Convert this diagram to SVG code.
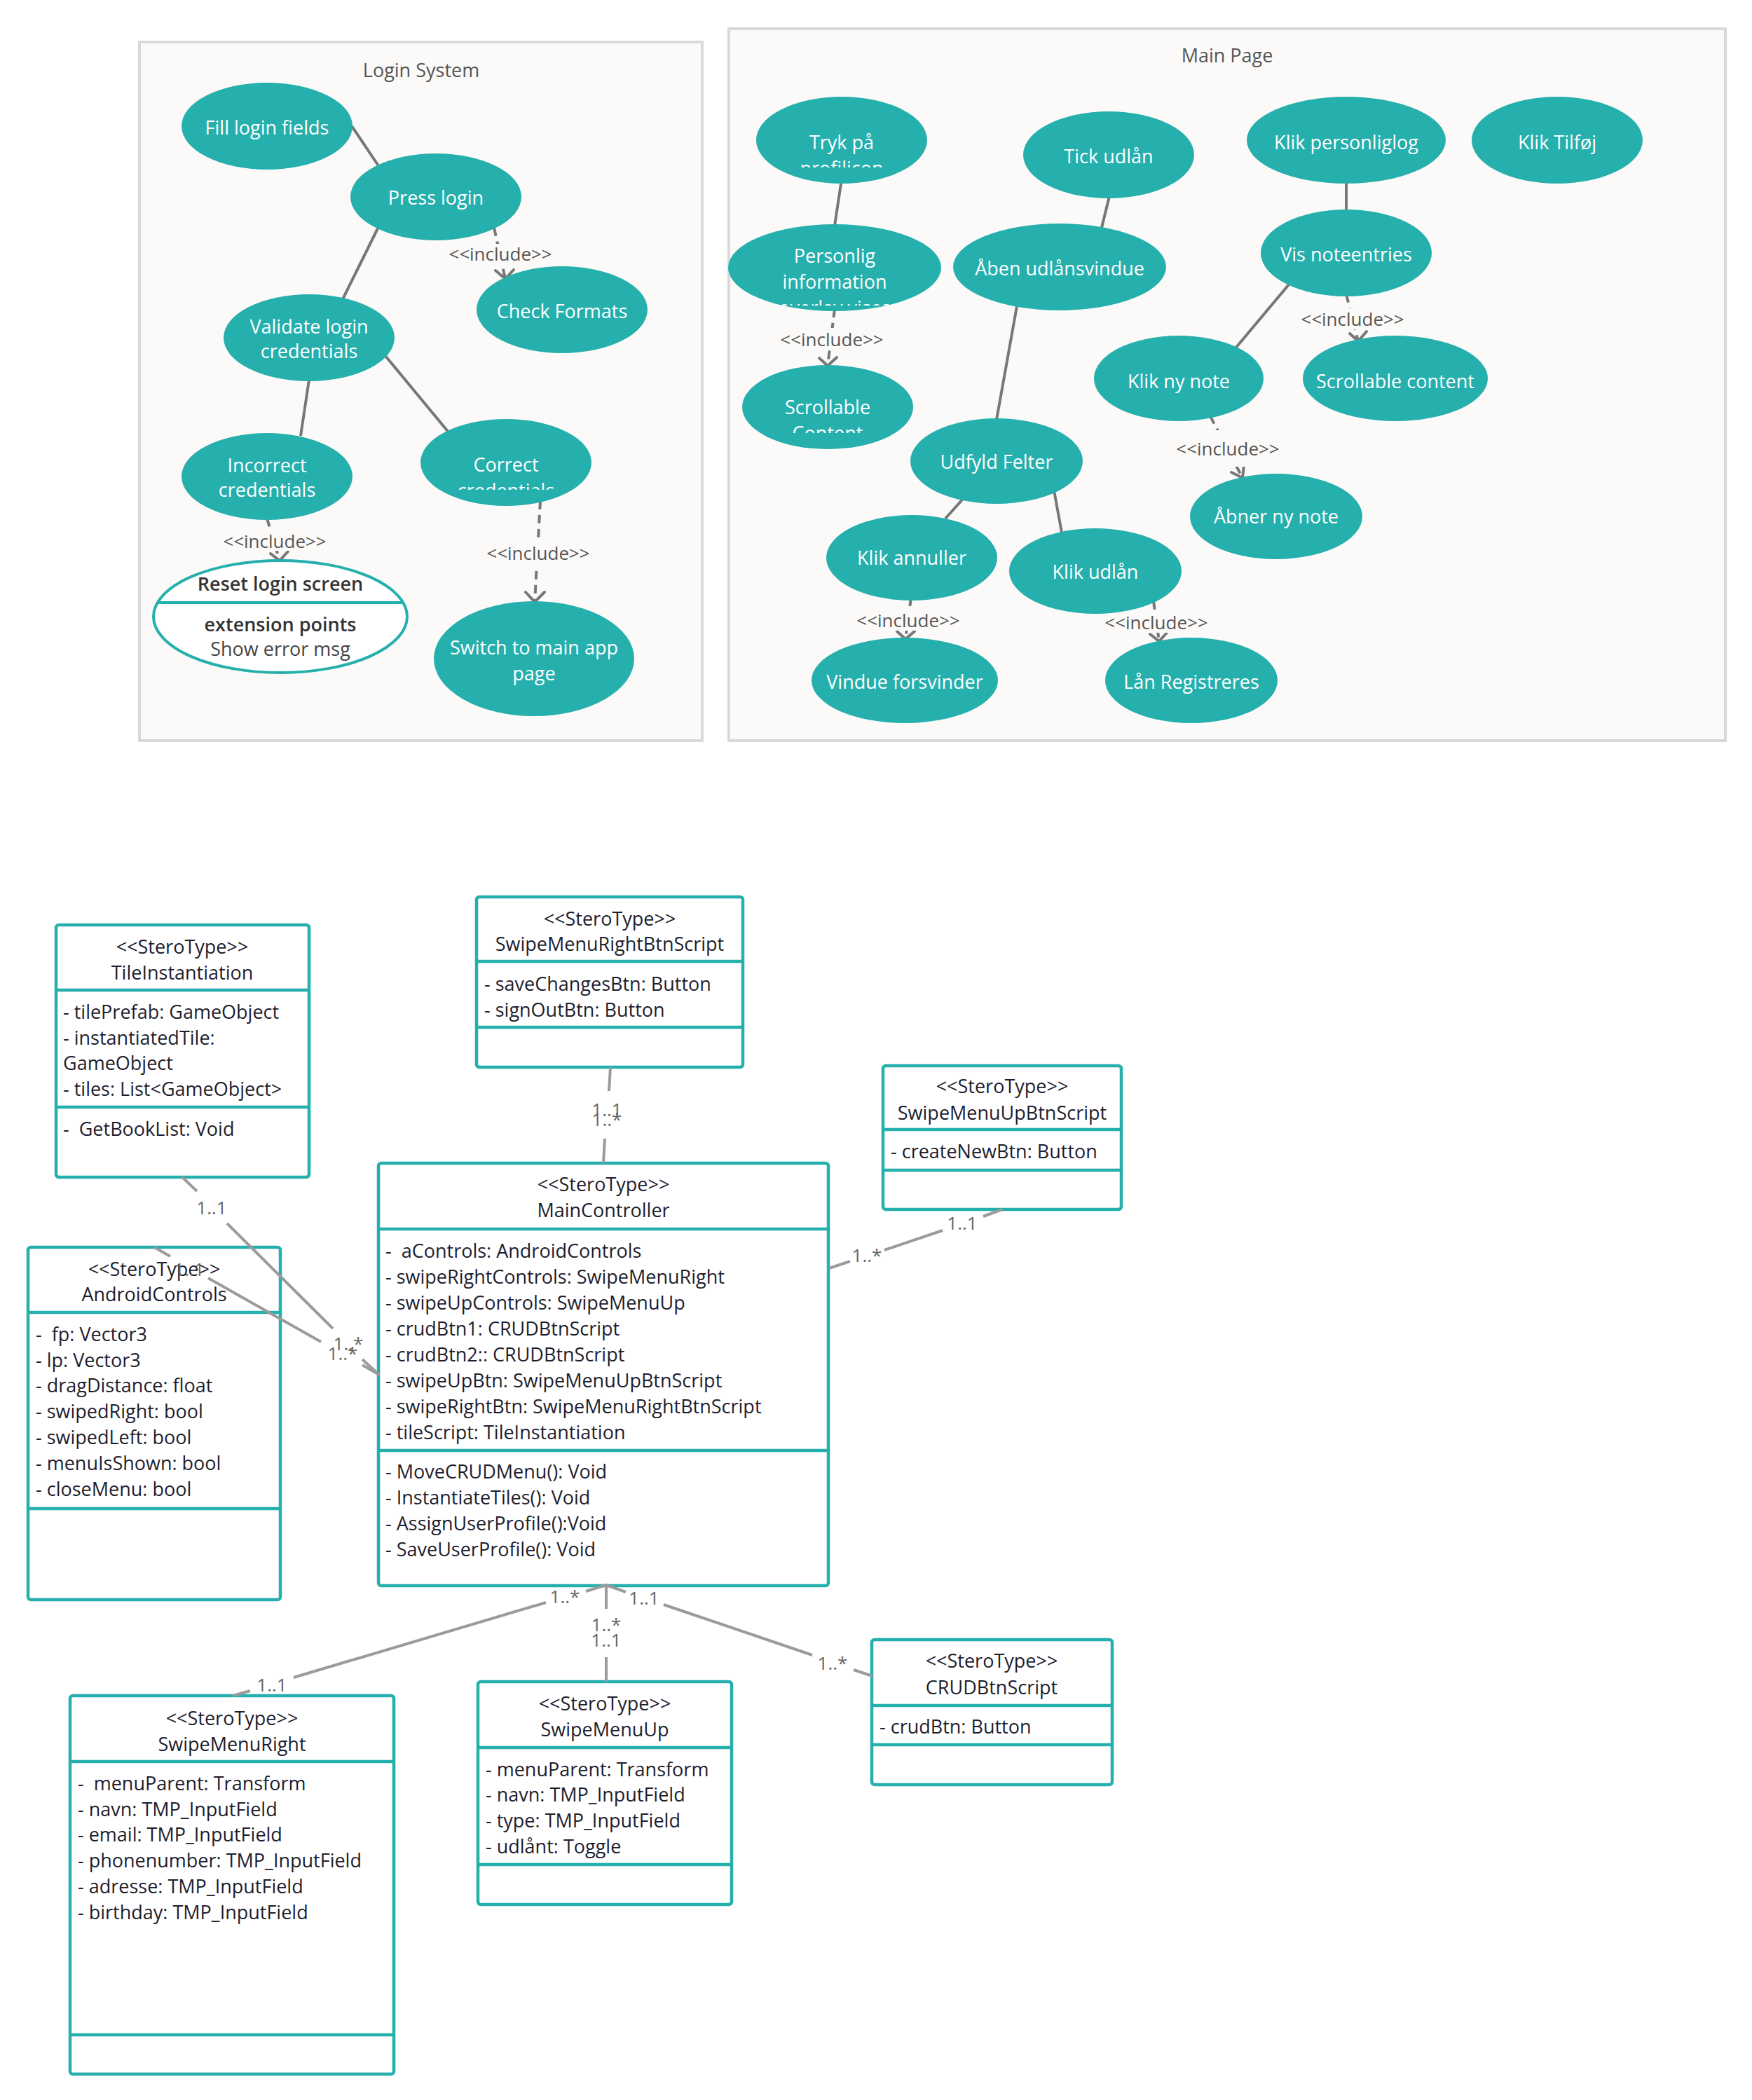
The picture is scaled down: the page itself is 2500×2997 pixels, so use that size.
<svg xmlns="http://www.w3.org/2000/svg" width="2500" height="2997" viewBox="0 0 2500 2997">
  <style>
    text { font-family: "Open Sans", "Noto Sans", "Liberation Sans", sans-serif; font-size: 27px; dominant-baseline: central; }
    .frame { fill: #fbfaf8; stroke: #d9d9d9; stroke-width: 4; }
    .title { fill: #555555; text-anchor: middle; }
    .uc { fill: #25afad; }
    .uct { fill: #ffffff; text-anchor: middle; }
    .assoc { stroke: #777777; stroke-width: 4; fill: none; }
    .incl { stroke: #777777; stroke-width: 4; fill: none; stroke-dasharray: 12 8; }
    .head { stroke: #777777; stroke-width: 4; fill: none; stroke-linecap: round; }
    .lbl { fill: #555555; text-anchor: middle; font-size: 26px; }
    .box { fill: #ffffff; stroke: #25afad; stroke-width: 4.5; }
    .div { stroke: #25afad; stroke-width: 4.5; }
    .ct { fill: #1e1e2e; white-space: pre; }
    .cc { fill: #1e1e2e; text-anchor: middle; }
    .rel { stroke: #9b9b9b; stroke-width: 4; fill: none; }
    .mult { fill: #666666; text-anchor: middle; font-size: 26px; }
  </style>
  <defs>
    <clipPath id="clip-tryk"><rect x="1070" y="130" width="260" height="109"/></clipPath>
    <clipPath id="clip-correct"><rect x="590" y="590" width="270" height="109"/></clipPath>
    <clipPath id="clip-personlig"><rect x="1030" y="310" width="320" height="126"/></clipPath>
    <clipPath id="clip-scroll1"><rect x="1050" y="515" width="270" height="103"/></clipPath>
  </defs>

  <rect width="2500" height="2997" fill="#ffffff"/>

  <!-- ===== Use case: Login System ===== -->
  <g id="login-system">
    <rect class="frame" x="199" y="60" width="803" height="997"/>
    <text class="title" x="601" y="99">Login System</text>
  </g>

  <!-- ===== Use case: Main Page ===== -->
  <g id="main-page">
    <rect class="frame" x="1040" y="41" width="1422" height="1016"/>
    <text class="title" x="1751" y="78">Main Page</text>
  </g>

  <!-- use case connectors -->
  <g id="usecase-connectors">
    <line class="assoc" x1="502" y1="180" x2="541" y2="238"/>
    <line class="assoc" x1="540" y1="324" x2="489" y2="427"/>
    <line class="assoc" x1="441" y1="542" x2="429" y2="622"/>
    <line class="assoc" x1="550" y1="508" x2="641" y2="618"/>

    <line class="incl" x1="705" y1="325" x2="721" y2="398"/>
    <line class="incl" x1="381" y1="740" x2="399" y2="800"/>
    <line class="incl" x1="771" y1="715" x2="763" y2="859"/>

    <line class="assoc" x1="1200" y1="262" x2="1191" y2="322"/>
    <line class="assoc" x1="1583" y1="280" x2="1572" y2="325"/>
    <line class="assoc" x1="1451" y1="437" x2="1422" y2="599"/>
    <line class="assoc" x1="1921" y1="261" x2="1921" y2="301"/>
    <line class="assoc" x1="1840" y1="405" x2="1762" y2="498"/>
    <line class="assoc" x1="1375" y1="711" x2="1349" y2="740"/>
    <line class="assoc" x1="1504" y1="700" x2="1515" y2="760"/>

    <line class="incl" x1="1191" y1="441" x2="1181" y2="522"/>
    <line class="incl" x1="1921" y1="420" x2="1938" y2="487"/>
    <line class="incl" x1="1727" y1="594" x2="1773" y2="682"/>
    <line class="incl" x1="1300" y1="853" x2="1292" y2="912"/>
    <line class="incl" x1="1646" y1="858" x2="1654" y2="915"/>

    <!-- include arrowheads -->
    <polyline class="head" points="707,386 721,398 733,385"/>
    <polyline class="head" points="386,790 399,800 411,787"/>
    <polyline class="head" points="750,845 763,859 777,845"/>
    <polyline class="head" points="1169,511 1181,522 1194,510"/>
    <polyline class="head" points="1926,476 1938,487 1950,473"/>
    <polyline class="head" points="1757,674 1773,682 1775,664"/>
    <polyline class="head" points="1280,901 1292,912 1305,901"/>
    <polyline class="head" points="1641,905 1654,915 1665,903"/>

    <!-- include labels -->
    <rect x="650" y="348" width="128" height="28" fill="#fbfaf8"/>
    <text class="lbl" x="714" y="362">&lt;&lt;include&gt;&gt;</text>
    <rect x="328" y="758" width="128" height="28" fill="#fbfaf8"/>
    <text class="lbl" x="392" y="772">&lt;&lt;include&gt;&gt;</text>
    <rect x="704" y="770" width="128" height="38" fill="#fbfaf8"/>
    <text class="lbl" x="768" y="789">&lt;&lt;include&gt;&gt;</text>
    <rect x="1123" y="468" width="128" height="32" fill="#fbfaf8"/>
    <text class="lbl" x="1187" y="484">&lt;&lt;include&gt;&gt;</text>
    <rect x="1866" y="440" width="128" height="30" fill="#fbfaf8"/>
    <text class="lbl" x="1930" y="455">&lt;&lt;include&gt;&gt;</text>
    <rect x="1688" y="614" width="128" height="52" fill="#fbfaf8"/>
    <text class="lbl" x="1752" y="640">&lt;&lt;include&gt;&gt;</text>
    <rect x="1232" y="870" width="128" height="30" fill="#fbfaf8"/>
    <text class="lbl" x="1296" y="885">&lt;&lt;include&gt;&gt;</text>
    <rect x="1586" y="873" width="128" height="30" fill="#fbfaf8"/>
    <text class="lbl" x="1650" y="888">&lt;&lt;include&gt;&gt;</text>
  </g>

  <!-- login use cases -->
  <g id="uc-fill-login">
    <ellipse class="uc" cx="381" cy="180" rx="122" ry="62"/>
    <text class="uct" x="381" y="181">Fill login fields</text>
  </g>
  <g id="uc-press-login">
    <ellipse class="uc" cx="622" cy="281" rx="122" ry="62"/>
    <text class="uct" x="622" y="281">Press login</text>
  </g>
  <g id="uc-check-formats">
    <ellipse class="uc" cx="802" cy="442" rx="122" ry="62"/>
    <text class="uct" x="802" y="443">Check Formats</text>
  </g>
  <g id="uc-validate">
    <ellipse class="uc" cx="441" cy="482" rx="122" ry="62"/>
    <text class="uct" x="441" y="465">Validate login</text>
    <text class="uct" x="441" y="500">credentials</text>
  </g>
  <g id="uc-incorrect">
    <ellipse class="uc" cx="381" cy="680" rx="122" ry="62"/>
    <text class="uct" x="381" y="663">Incorrect</text>
    <text class="uct" x="381" y="698">credentials</text>
  </g>
  <g id="uc-correct">
    <ellipse class="uc" cx="722" cy="660" rx="122" ry="62"/>
    <g clip-path="url(#clip-correct)">
      <text class="uct" x="722" y="662">Correct</text>
      <text class="uct" x="722" y="699">credentials</text>
    </g>
  </g>
  <g id="uc-reset">
    <ellipse cx="400" cy="880" rx="181" ry="80" fill="#ffffff" stroke="#25afad" stroke-width="4"/>
    <line x1="224" y1="860" x2="576" y2="860" stroke="#25afad" stroke-width="4"/>
    <text x="400" y="832" text-anchor="middle" fill="#333333" font-weight="600">Reset login screen</text>
    <text x="400" y="890" text-anchor="middle" fill="#333333" font-weight="600">extension points</text>
    <text x="400" y="925" text-anchor="middle" fill="#444444">Show error msg</text>
  </g>
  <g id="uc-switch">
    <ellipse class="uc" cx="762" cy="940" rx="143" ry="82"/>
    <text class="uct" x="762" y="923">Switch to main app</text>
    <text class="uct" x="762" y="960">page</text>
  </g>

  <!-- main page use cases -->
  <g id="uc-tryk">
    <ellipse class="uc" cx="1201" cy="200" rx="122" ry="62"/>
    <g clip-path="url(#clip-tryk)">
      <text class="uct" x="1201" y="202">Tryk på</text>
      <text class="uct" x="1201" y="239">profilicon</text>
    </g>
  </g>
  <g id="uc-tick-udlaan">
    <ellipse class="uc" cx="1582" cy="221" rx="122" ry="62"/>
    <text class="uct" x="1582" y="222">Tick udlån</text>
  </g>
  <g id="uc-klik-personliglog">
    <ellipse class="uc" cx="1921" cy="200" rx="142" ry="62"/>
    <text class="uct" x="1921" y="202">Klik personliglog</text>
  </g>
  <g id="uc-klik-tilfoej">
    <ellipse class="uc" cx="2222" cy="200" rx="122" ry="62"/>
    <text class="uct" x="2222" y="202">Klik Tilføj</text>
  </g>
  <g id="uc-personlig">
    <ellipse class="uc" cx="1191" cy="382" rx="152" ry="62"/>
    <g clip-path="url(#clip-personlig)">
      <text class="uct" x="1191" y="364">Personlig</text>
      <text class="uct" x="1191" y="401">information</text>
      <text class="uct" x="1191" y="438">overlay vises</text>
    </g>
  </g>
  <g id="uc-aaben-udlaansvindue">
    <ellipse class="uc" cx="1512" cy="381" rx="152" ry="62"/>
    <text class="uct" x="1512" y="382">Åben udlånsvindue</text>
  </g>
  <g id="uc-vis-noteentries">
    <ellipse class="uc" cx="1921" cy="361" rx="122" ry="62"/>
    <text class="uct" x="1921" y="362">Vis noteentries</text>
  </g>
  <g id="uc-scrollable-content-1">
    <ellipse class="uc" cx="1181" cy="581" rx="122" ry="60"/>
    <g clip-path="url(#clip-scroll1)">
      <text class="uct" x="1181" y="580">Scrollable</text>
      <text class="uct" x="1181" y="617">Content</text>
    </g>
  </g>
  <g id="uc-klik-ny-note">
    <ellipse class="uc" cx="1682" cy="540" rx="121" ry="61"/>
    <text class="uct" x="1682" y="543">Klik ny note</text>
  </g>
  <g id="uc-scrollable-content-2">
    <ellipse class="uc" cx="1991" cy="540" rx="132" ry="61"/>
    <text class="uct" x="1991" y="543">Scrollable content</text>
  </g>
  <g id="uc-udfyld-felter">
    <ellipse class="uc" cx="1422" cy="658" rx="123" ry="61"/>
    <text class="uct" x="1422" y="658">Udfyld Felter</text>
  </g>
  <g id="uc-aabner-ny-note">
    <ellipse class="uc" cx="1821" cy="737" rx="123" ry="61"/>
    <text class="uct" x="1821" y="736">Åbner ny note</text>
  </g>
  <g id="uc-klik-annuller">
    <ellipse class="uc" cx="1301" cy="796" rx="122" ry="61"/>
    <text class="uct" x="1301" y="795">Klik annuller</text>
  </g>
  <g id="uc-klik-udlaan">
    <ellipse class="uc" cx="1563" cy="815" rx="123" ry="61"/>
    <text class="uct" x="1563" y="815">Klik udlån</text>
  </g>
  <g id="uc-vindue-forsvinder">
    <ellipse class="uc" cx="1291" cy="971" rx="133" ry="61"/>
    <text class="uct" x="1291" y="972">Vindue forsvinder</text>
  </g>
  <g id="uc-laan-registreres">
    <ellipse class="uc" cx="1700" cy="971" rx="123" ry="61"/>
    <text class="uct" x="1700" y="972">Lån Registreres</text>
  </g>

  <!-- ===== Class diagram ===== -->
  <g id="class-TileInstantiation">
    <rect class="box" x="80" y="1320" width="361" height="360" rx="4"/>
    <line class="div" x1="80" y1="1413" x2="441" y2="1413"/>
    <line class="div" x1="80" y1="1580" x2="441" y2="1580"/>
    <text class="cc" x="260" y="1350">&lt;&lt;SteroType&gt;&gt;</text>
    <text class="cc" x="260" y="1387">TileInstantiation</text>
    <text class="ct" x="90" y="1443">- tilePrefab: GameObject</text>
    <text class="ct" x="90" y="1480">- instantiatedTile:</text>
    <text class="ct" x="90" y="1516">GameObject</text>
    <text class="ct" x="90" y="1553">- tiles: List&lt;GameObject&gt;</text>
    <text class="ct" x="90" y="1610">-  GetBookList: Void</text>
  </g>

  <g id="class-SwipeMenuRightBtnScript">
    <rect class="box" x="680" y="1280" width="380" height="243" rx="4"/>
    <line class="div" x1="680" y1="1372" x2="1060" y2="1372"/>
    <line class="div" x1="680" y1="1466" x2="1060" y2="1466"/>
    <text class="cc" x="870" y="1310">&lt;&lt;SteroType&gt;&gt;</text>
    <text class="cc" x="870" y="1346">SwipeMenuRightBtnScript</text>
    <text class="ct" x="691" y="1403">- saveChangesBtn: Button</text>
    <text class="ct" x="691" y="1440">- signOutBtn: Button</text>
  </g>

  <g id="class-SwipeMenuUpBtnScript">
    <rect class="box" x="1260" y="1521" width="340" height="205" rx="4"/>
    <line class="div" x1="1260" y1="1612" x2="1600" y2="1612"/>
    <line class="div" x1="1260" y1="1670" x2="1600" y2="1670"/>
    <text class="cc" x="1430" y="1549">&lt;&lt;SteroType&gt;&gt;</text>
    <text class="cc" x="1430" y="1587">SwipeMenuUpBtnScript</text>
    <text class="ct" x="1271" y="1642">- createNewBtn: Button</text>
  </g>

  <g id="class-MainController">
    <rect class="box" x="540" y="1660" width="642" height="603" rx="4"/>
    <line class="div" x1="540" y1="1754" x2="1182" y2="1754"/>
    <line class="div" x1="540" y1="2070" x2="1182" y2="2070"/>
    <text class="cc" x="861" y="1689">&lt;&lt;SteroType&gt;&gt;</text>
    <text class="cc" x="861" y="1726">MainController</text>
    <text class="ct" x="550" y="1784">-  aControls: AndroidControls</text>
    <text class="ct" x="550" y="1821">- swipeRightControls: SwipeMenuRight</text>
    <text class="ct" x="550" y="1858">- swipeUpControls: SwipeMenuUp</text>
    <text class="ct" x="550" y="1895">- crudBtn1: CRUDBtnScript</text>
    <text class="ct" x="550" y="1932">- crudBtn2:: CRUDBtnScript</text>
    <text class="ct" x="550" y="1969">- swipeUpBtn: SwipeMenuUpBtnScript</text>
    <text class="ct" x="550" y="2006">- swipeRightBtn: SwipeMenuRightBtnScript</text>
    <text class="ct" x="550" y="2043">- tileScript: TileInstantiation</text>
    <text class="ct" x="550" y="2099">- MoveCRUDMenu(): Void</text>
    <text class="ct" x="550" y="2136">- InstantiateTiles(): Void</text>
    <text class="ct" x="550" y="2173">- AssignUserProfile():Void</text>
    <text class="ct" x="550" y="2210">- SaveUserProfile(): Void</text>
  </g>

  <g id="class-AndroidControls">
    <rect class="box" x="40" y="1780" width="360" height="503" rx="4"/>
    <line class="div" x1="40" y1="1873" x2="400" y2="1873"/>
    <line class="div" x1="40" y1="2153" x2="400" y2="2153"/>
    <text class="cc" x="220" y="1810">&lt;&lt;SteroType&gt;&gt;</text>
    <text class="cc" x="220" y="1846">AndroidControls</text>
    <text class="ct" x="51" y="1903">-  fp: Vector3</text>
    <text class="ct" x="51" y="1940">- lp: Vector3</text>
    <text class="ct" x="51" y="1976">- dragDistance: float</text>
    <text class="ct" x="51" y="2013">- swipedRight: bool</text>
    <text class="ct" x="51" y="2050">- swipedLeft: bool</text>
    <text class="ct" x="51" y="2087">- menuIsShown: bool</text>
    <text class="ct" x="51" y="2124">- closeMenu: bool</text>
  </g>

  <g id="class-SwipeMenuRight">
    <rect class="box" x="100" y="2420" width="462" height="540" rx="4"/>
    <line class="div" x1="100" y1="2514" x2="562" y2="2514"/>
    <line class="div" x1="100" y1="2904" x2="562" y2="2904"/>
    <text class="cc" x="331" y="2451">&lt;&lt;SteroType&gt;&gt;</text>
    <text class="cc" x="331" y="2488">SwipeMenuRight</text>
    <text class="ct" x="111" y="2544">-  menuParent: Transform</text>
    <text class="ct" x="111" y="2581">- navn: TMP_InputField</text>
    <text class="ct" x="111" y="2617">- email: TMP_InputField</text>
    <text class="ct" x="111" y="2654">- phonenumber: TMP_InputField</text>
    <text class="ct" x="111" y="2691">- adresse: TMP_InputField</text>
    <text class="ct" x="111" y="2728">- birthday: TMP_InputField</text>
  </g>

  <g id="class-SwipeMenuUp">
    <rect class="box" x="682" y="2400" width="362" height="318" rx="4"/>
    <line class="div" x1="682" y1="2494" x2="1044" y2="2494"/>
    <line class="div" x1="682" y1="2661" x2="1044" y2="2661"/>
    <text class="cc" x="863" y="2430">&lt;&lt;SteroType&gt;&gt;</text>
    <text class="cc" x="863" y="2467">SwipeMenuUp</text>
    <text class="ct" x="693" y="2524">- menuParent: Transform</text>
    <text class="ct" x="693" y="2560">- navn: TMP_InputField</text>
    <text class="ct" x="693" y="2597">- type: TMP_InputField</text>
    <text class="ct" x="693" y="2634">- udlånt: Toggle</text>
  </g>

  <g id="class-CRUDBtnScript">
    <rect class="box" x="1244" y="2340" width="343" height="207" rx="4"/>
    <line class="div" x1="1244" y1="2434" x2="1587" y2="2434"/>
    <line class="div" x1="1244" y1="2490" x2="1587" y2="2490"/>
    <text class="cc" x="1415" y="2369">&lt;&lt;SteroType&gt;&gt;</text>
    <text class="cc" x="1415" y="2407">CRUDBtnScript</text>
    <text class="ct" x="1255" y="2463">- crudBtn: Button</text>
  </g>

  <!-- class associations, broken where multiplicities sit -->
  <g id="class-connectors">
    <!-- TileInstantiation - MainController -->
    <line class="rel" x1="260" y1="1680" x2="281" y2="1700"/>
    <line class="rel" x1="324" y1="1746" x2="475" y2="1896"/>
    <line class="rel" x1="517" y1="1940" x2="541" y2="1962"/>
    <text class="mult" x="302" y="1723">1..1</text>
    <text class="mult" x="497" y="1917">1..*</text>
    <!-- AndroidControls - MainController -->
    <line class="rel" x1="220" y1="1780" x2="243" y2="1793"/>
    <line class="rel" x1="297" y1="1824" x2="458" y2="1915"/>
    <line class="rel" x1="517" y1="1948" x2="541" y2="1962"/>
    <text class="mult" x="270" y="1811">1..1</text>
    <text class="mult" x="489" y="1931">1..*</text>
    <!-- SwipeMenuRightBtnScript - MainController -->
    <line class="rel" x1="871" y1="1523" x2="869" y2="1557"/>
    <line class="rel" x1="863" y1="1625" x2="861" y2="1660"/>
    <text class="mult" x="866" y="1583">1..1</text>
    <text class="mult" x="866" y="1597">1..*</text>
    <!-- SwipeMenuUpBtnScript - MainController -->
    <line class="rel" x1="1430" y1="1726" x2="1403" y2="1736"/>
    <line class="rel" x1="1345" y1="1756" x2="1262" y2="1784"/>
    <line class="rel" x1="1213" y1="1800" x2="1183" y2="1810"/>
    <text class="mult" x="1373" y="1745">1..1</text>
    <text class="mult" x="1237" y="1791">1..*</text>
    <!-- MainController - SwipeMenuRight -->
    <line class="rel" x1="865" y1="2262" x2="836" y2="2271"/>
    <line class="rel" x1="779" y1="2287" x2="419" y2="2394"/>
    <line class="rel" x1="357" y1="2413" x2="332" y2="2420"/>
    <text class="mult" x="806" y="2278">1..*</text>
    <text class="mult" x="388" y="2404">1..1</text>
    <!-- MainController - SwipeMenuUp -->
    <line class="rel" x1="865" y1="2262" x2="865" y2="2296"/>
    <line class="rel" x1="865" y1="2365" x2="865" y2="2400"/>
    <text class="mult" x="865" y="2318">1..*</text>
    <text class="mult" x="865" y="2340">1..1</text>
    <!-- MainController - CRUDBtnScript -->
    <line class="rel" x1="865" y1="2262" x2="893" y2="2272"/>
    <line class="rel" x1="947" y1="2290" x2="1159" y2="2362"/>
    <line class="rel" x1="1218" y1="2383" x2="1245" y2="2392"/>
    <text class="mult" x="919" y="2280">1..1</text>
    <text class="mult" x="1188" y="2373">1..*</text>
  </g>
</svg>
